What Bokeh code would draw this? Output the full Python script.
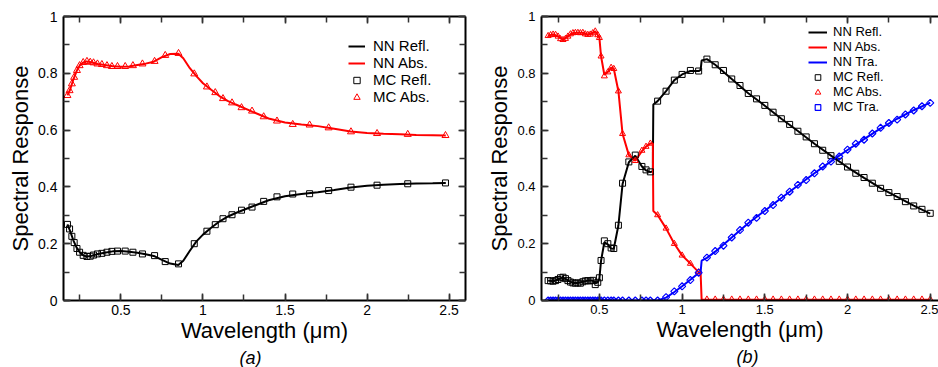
from bokeh.plotting import figure
from bokeh.layouts import row
from bokeh.models import (LinearAxis, SingleIntervalTicker, Legend, LegendItem, Title, Range1d,
                          CustomJSTickFormatter)
from bokeh.embed import file_html
from bokeh.resources import INLINE
import math

FONT = "Liberation Sans"

# ---------------- Panel (a) ----------------
wl_a = [0.174, 0.187, 0.201, 0.215, 0.232, 0.248, 0.27, 0.293, 0.313, 0.333, 0.357, 0.384,
        0.415, 0.445, 0.479, 0.526, 0.573, 0.631, 0.705, 0.77, 0.851, 0.947, 1.024, 1.075,
        1.122, 1.177, 1.235, 1.299, 1.37, 1.451, 1.547, 1.65, 1.766, 1.902, 2.061, 2.248, 2.478]
mc_refl_a = [0.268, 0.252, 0.226, 0.204, 0.183, 0.170, 0.159, 0.155, 0.156, 0.160, 0.164, 0.166,
             0.170, 0.173, 0.174, 0.174, 0.170, 0.164, 0.158, 0.137, 0.129, 0.200, 0.244, 0.267,
             0.288, 0.302, 0.318, 0.329, 0.349, 0.365, 0.375, 0.376, 0.387, 0.399, 0.406, 0.411, 0.414]
mc_abs_a = [0.722, 0.739, 0.763, 0.786, 0.810, 0.827, 0.838, 0.842, 0.839, 0.837, 0.833, 0.831,
            0.827, 0.824, 0.824, 0.824, 0.827, 0.833, 0.842, 0.863, 0.870, 0.798, 0.752, 0.732,
            0.711, 0.696, 0.679, 0.667, 0.647, 0.632, 0.620, 0.618, 0.608, 0.594, 0.588, 0.585, 0.581]

nn_wl_a = [0.174, 0.19, 0.21, 0.23, 0.25, 0.27, 0.29, 0.32, 0.36, 0.40,
           0.45, 0.50, 0.55, 0.60, 0.65, 0.70, 0.75, 0.80, 0.85, 0.88,
           0.92, 0.96, 1.0, 1.05, 1.1, 1.15, 1.2, 1.3, 1.4, 1.5,
           1.6, 1.7, 1.8, 1.9, 2.0, 2.1, 2.2, 2.3, 2.4, 2.48]
nn_refl_a = [0.268, 0.245, 0.212, 0.186, 0.169, 0.159, 0.155, 0.157, 0.164, 0.168,
             0.173, 0.174, 0.172, 0.168, 0.163, 0.157, 0.143, 0.130, 0.125, 0.140,
             0.175, 0.208, 0.232, 0.256, 0.278, 0.295, 0.308, 0.331, 0.353, 0.367,
             0.375, 0.381, 0.389, 0.398, 0.404, 0.408, 0.410, 0.412, 0.413, 0.414]
nn_abs_a = [0.722, 0.742, 0.778, 0.808, 0.828, 0.838, 0.842, 0.839, 0.833, 0.829,
            0.825, 0.823, 0.824, 0.829, 0.834, 0.841, 0.857, 0.868, 0.869, 0.853,
            0.818, 0.790, 0.765, 0.742, 0.720, 0.703, 0.690, 0.665, 0.641, 0.627,
            0.620, 0.614, 0.605, 0.595, 0.590, 0.587, 0.585, 0.583, 0.582, 0.581]

# ---------------- Panel (b) ----------------
wl_b = [0.19, 0.205, 0.22, 0.235, 0.25, 0.265, 0.28, 0.295, 0.31, 0.325, 0.34, 0.355, 0.37,
        0.385, 0.40, 0.415, 0.43, 0.445, 0.46, 0.475, 0.49, 0.50,
        0.51, 0.53, 0.551, 0.571, 0.587, 0.615, 0.64, 0.678, 0.717, 0.757, 0.782, 0.808,
        0.852, 0.903, 0.953,
        1.0, 1.05, 1.1, 1.15, 1.2, 1.25, 1.3, 1.35, 1.4, 1.45, 1.5, 1.55, 1.6, 1.65, 1.7, 1.75,
        1.8, 1.85, 1.9, 1.95, 2.0, 2.05, 2.1, 2.15, 2.2, 2.25, 2.3, 2.35, 2.4, 2.45, 2.5]
mc_refl_b = [0.070, 0.069, 0.068, 0.070, 0.074, 0.080, 0.082, 0.077, 0.070, 0.065, 0.062, 0.061, 0.062,
             0.061, 0.066, 0.069, 0.070, 0.069, 0.071, 0.056, 0.064, 0.080,
             0.141, 0.210, 0.200, 0.185, 0.183, 0.265, 0.413, 0.488, 0.512, 0.472, 0.460, 0.453,
             0.702, 0.737, 0.776,
             0.796, 0.810, 0.808, 0.850, 0.830, 0.810, 0.780, 0.757, 0.729, 0.710, 0.687, 0.663,
             0.640, 0.620, 0.596, 0.576, 0.552, 0.529, 0.510, 0.490, 0.470, 0.448, 0.433, 0.413,
             0.395, 0.380, 0.366, 0.348, 0.333, 0.321, 0.307]
mc_abs_b = [0.932, 0.935, 0.937, 0.936, 0.930, 0.921, 0.918, 0.922, 0.930, 0.938, 0.942, 0.943, 0.943,
            0.942, 0.943, 0.938, 0.936, 0.937, 0.942, 0.948, 0.935, 0.925,
            0.860, 0.790, 0.804, 0.820, 0.816, 0.737, 0.587, 0.512, 0.492, 0.528, 0.542, 0.553,
            0.301, 0.254, 0.200,
            0.159, 0.130, 0.100, 0.004, 0.004, 0.004, 0.004, 0.004, 0.004, 0.004, 0.004, 0.004,
            0.004, 0.004, 0.004, 0.004, 0.004, 0.004, 0.004, 0.004, 0.004, 0.004, 0.004, 0.004,
            0.004, 0.004, 0.004, 0.004, 0.004, 0.004, 0.004]
mc_tra_b = [0.0, 0.0, 0.0, 0.0, 0.0, 0.0, 0.0, 0.0, 0.0, 0.0, 0.0, 0.0, 0.0,
            0.0, 0.0, 0.0, 0.0, 0.0, 0.0, 0.0, 0.0, 0.0,
            0.0, 0.0, 0.0, 0.0, 0.0, 0.0, 0.0, 0.0, 0.0, 0.0, 0.0, 0.0,
            0.0, 0.012, 0.032,
            0.050, 0.072, 0.098, 0.151, 0.174, 0.193, 0.222, 0.248, 0.274, 0.291, 0.315, 0.336,
            0.362, 0.383, 0.407, 0.424, 0.448, 0.472, 0.489, 0.507, 0.531, 0.552, 0.566, 0.588,
            0.608, 0.625, 0.637, 0.655, 0.669, 0.684, 0.696]

nn_wl_b = [0.19, 0.22, 0.25, 0.28, 0.31, 0.34, 0.37, 0.40, 0.43, 0.46,
           0.475, 0.49, 0.50,
           0.51, 0.53, 0.551, 0.571, 0.587, 0.615, 0.64, 0.678, 0.717, 0.757, 0.782, 0.808,
           0.823, 0.826, 0.852, 0.903, 0.953, 1.0, 1.05, 1.1, 1.112, 1.118, 1.15, 1.2,
           1.3, 1.4, 1.5, 1.6, 1.7, 1.8, 1.9, 2.0, 2.1, 2.2, 2.3, 2.4, 2.5]
nn_refl_b = [0.070, 0.068, 0.074, 0.082, 0.070, 0.062, 0.062, 0.066, 0.070, 0.070,
             0.060, 0.064, 0.078,
             0.140, 0.205, 0.198, 0.183, 0.182, 0.265, 0.410, 0.487, 0.510, 0.472, 0.458, 0.452,
             0.455, 0.690, 0.702, 0.737, 0.776, 0.796, 0.808, 0.808, 0.812, 0.845, 0.850, 0.830,
             0.780, 0.730, 0.686, 0.640, 0.597, 0.552, 0.510, 0.469, 0.432, 0.396, 0.365, 0.334, 0.306]
nn_abs_b = [0.932, 0.937, 0.930, 0.918, 0.930, 0.942, 0.943, 0.943, 0.936, 0.942,
            0.948, 0.935, 0.925,
            0.860, 0.795, 0.805, 0.820, 0.816, 0.737, 0.587, 0.512, 0.492, 0.526, 0.542, 0.553,
            0.553, 0.315, 0.301, 0.254, 0.200, 0.159, 0.130, 0.100, 0.095, 0.003, 0.003, 0.003,
            0.003, 0.003, 0.003, 0.003, 0.003, 0.003, 0.003, 0.003, 0.003, 0.003, 0.003, 0.003, 0.003]
nn_tra_b = [0.0, 0.0, 0.0, 0.0, 0.0, 0.0, 0.0, 0.0, 0.0, 0.0,
            0.0, 0.0, 0.0,
            0.0, 0.0, 0.0, 0.0, 0.0, 0.0, 0.0, 0.0, 0.0, 0.0, 0.0, 0.0,
            0.0, 0.0, 0.0, 0.010, 0.030, 0.050, 0.073, 0.097, 0.100, 0.140, 0.150, 0.172,
            0.222, 0.272, 0.316, 0.361, 0.405, 0.448, 0.490, 0.530, 0.568, 0.606, 0.640, 0.670, 0.697]

for a, b in [(wl_a, mc_refl_a), (wl_a, mc_abs_a), (nn_wl_a, nn_refl_a), (nn_wl_a, nn_abs_a),
             (wl_b, mc_refl_b), (wl_b, mc_abs_b), (wl_b, mc_tra_b),
             (nn_wl_b, nn_refl_b), (nn_wl_b, nn_abs_b), (nn_wl_b, nn_tra_b)]:
    assert len(a) == len(b), (len(a), len(b))

x_ticks = [0.5, 1, 1.5, 2, 2.5]
x_tick_labels = ["0.5", "1", "1.5", "2", "2.5"]
y_ticks = [0, 0.2, 0.4, 0.6, 0.8, 1]
y_tick_labels = ["0", "0.2", "0.4", "0.6", "0.8", "1"]

x_label = "Wavelength (\u03bcm)"
y_label = "Spectral Response"
panel_tags = ["(a)", "(b)"]


def style_axis(ax, show_labels, tick_size):
    ax.axis_line_width = 2
    ax.axis_line_color = "black"
    ax.major_tick_in = 7
    ax.major_tick_out = 0
    ax.minor_tick_in = 6
    ax.minor_tick_out = 0
    ax.major_tick_line_width = 1.5
    ax.minor_tick_line_width = 1.5
    ax.major_tick_line_color = "#333333"
    ax.minor_tick_line_color = "#333333"
    if show_labels:
        ax.major_label_text_font = FONT
        ax.major_label_text_font_size = tick_size
        ax.major_label_text_color = "black"
        ax.axis_label_text_font = FONT
        ax.axis_label_text_font_size = "22px"
        ax.axis_label_text_font_style = "normal"
        ax.axis_label_text_color = "black"
        ax.axis_label_text_line_height = 1.0
    else:
        ax.formatter = CustomJSTickFormatter(code="return ''")
        ax.major_label_text_font_size = "1px"
        ax.major_label_standoff = 0


def make_fig(width, border_left, border_right, x_end, tick_size, mirror_right, tag, tag_offset):
    p = figure(width=width, height=367, output_backend="svg", toolbar_location=None,
               x_range=Range1d(0.15, x_end), y_range=Range1d(0, 1),
               x_axis_type=None, y_axis_type=None,
               min_border_left=border_left, min_border_right=border_right,
               min_border_top=16, min_border_bottom=67)
    p.outline_line_color = None
    p.background_fill_color = "white"
    p.border_fill_color = "white"

    xt = dict(zip(x_ticks, x_tick_labels))
    yt = dict(zip(y_ticks, y_tick_labels))

    xb = LinearAxis(ticker=SingleIntervalTicker(interval=0.5, num_minor_ticks=2),
                    axis_label=x_label, major_label_overrides=xt,
                    major_label_standoff=4, axis_label_standoff=0)
    style_axis(xb, True, tick_size)
    p.add_layout(xb, "below")

    t = Title(text=tag, align="left", offset=tag_offset, standoff=0,
              text_font=FONT, text_font_size="18px", text_font_style="italic",
              text_color="black", text_line_height=1.0)
    p.add_layout(t, "below")

    yl = LinearAxis(ticker=SingleIntervalTicker(interval=0.2, num_minor_ticks=2),
                    axis_label=y_label, major_label_overrides=yt,
                    major_label_standoff=6, axis_label_standoff=2)
    style_axis(yl, True, tick_size)
    p.add_layout(yl, "left")
    xa = LinearAxis(ticker=SingleIntervalTicker(interval=0.5, num_minor_ticks=2))
    style_axis(xa, False, tick_size)
    p.add_layout(xa, "above")
    if mirror_right:
        yr = LinearAxis(ticker=SingleIntervalTicker(interval=0.2, num_minor_ticks=2))
        style_axis(yr, False, tick_size)
        p.add_layout(yr, "right")
    return p


def legend_for(p, items, loc, font_size, row_h, glyph_w, standoff):
    leg = Legend(items=[LegendItem(label=l, renderers=[r]) for l, r in items],
                 location=loc)
    leg.border_line_color = None
    leg.background_fill_alpha = 0
    leg.padding = 0
    leg.margin = 0
    leg.spacing = 0
    leg.label_height = row_h
    leg.glyph_height = row_h
    leg.glyph_width = glyph_w
    leg.label_standoff = standoff
    leg.label_text_font = FONT
    leg.label_text_font_size = font_size
    leg.label_text_line_height = 1.0
    leg.label_text_color = "black"
    p.add_layout(leg)


# ---- panel a
pa = make_fig(480, 63, 15, 2.6, "14px", True, panel_tags[0], 176)
la1 = pa.line(nn_wl_a, nn_refl_a, line_color="black", line_width=2)
la2 = pa.line(nn_wl_a, nn_abs_a, line_color="red", line_width=2)
ma1 = pa.scatter(wl_a, mc_refl_a, marker="square", size=6, fill_color=None,
                 line_color="black", line_width=1)
ma2 = pa.scatter(wl_a, mc_abs_a, marker="triangle", size=7, fill_color=None,
                 line_color="red", line_width=1)
legend_for(pa, [("NN Refl.", la1), ("NN Abs.", la2), ("MC Refl.", ma1), ("MC Abs.", ma2)],
           (285, 195), "15px", 16, 17, 8)

# ---- panel b
pb = make_fig(458, 61, 0, 2.55, "13px", False, panel_tags[1], 195)
lb1 = pb.line(nn_wl_b, nn_refl_b, line_color="black", line_width=2)
lb2 = pb.line(nn_wl_b, nn_abs_b, line_color="red", line_width=2)
lb3 = pb.line(nn_wl_b, nn_tra_b, line_color="blue", line_width=2)
mb1 = pb.scatter(wl_b, mc_refl_b, marker="square", size=6, fill_color=None,
                 line_color="black", line_width=1)
mb2 = pb.scatter(wl_b, mc_abs_b, marker="triangle", size=6, fill_color=None,
                 line_color="red", line_width=1)
mb3 = pb.scatter(wl_b, mc_tra_b, marker="square", size=5, angle=math.pi / 4, fill_color=None,
                 line_color="blue", line_width=1.2)
legend_for(pb, [("NN Refl.", lb1), ("NN Abs.", lb2), ("NN Tra.", lb3),
                ("MC Refl.", mb1), ("MC Abs.", mb2), ("MC Tra.", mb3)],
           (267, 186), "13px", 14, 19, 6)

layout = row(pa, pb, spacing=0)
open("out.html", "w").write(file_html(layout, INLINE))
